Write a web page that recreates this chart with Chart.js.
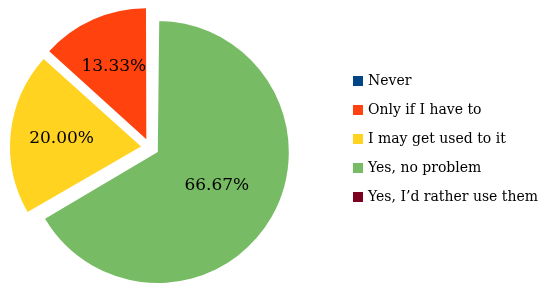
<!DOCTYPE html>
<html>
<head>
<meta charset="utf-8">
<script src="https://cdn.jsdelivr.net/npm/chart.js@4/dist/chart.umd.min.js"></script>
<style>
  html, body { margin: 0; padding: 0; background: #ffffff; }
  #wrap { position: relative; width: 550px; height: 288px; }
  #legend { position: absolute; left: 353px; top: 66px; margin: 0; padding: 0; list-style: none;
            font: 14px 'DejaVu Serif', serif; color: #000000; }
  #legend li { height: 29px; line-height: 29px; white-space: nowrap; }
  #legend .box { display: inline-block; width: 10px; height: 10px; margin-right: 5px; vertical-align: -1px; }
</style>
</head>
<body>
<div id="wrap">
  <canvas id="pieChart" width="550" height="288"></canvas>
  <ul id="legend"></ul>
</div>
<script>
// answers, in legend order
const answers = ["Never", "Only if I have to", "I may get used to it", "Yes, no problem", "Yes, I\u2019d rather use them"];
const counts = [0, 2, 3, 10, 0];
const colors = ["#004586", "#ff420e", "#ffd320", "#77bc65", "#7e0021"];

const total = counts.reduce((a, b) => a + b, 0);

// the pie runs counter-clockwise from the top, so feed it reversed
const labels = answers.slice().reverse();
const values = counts.slice().reverse();
const bg = colors.slice().reverse();

// chart.js moves an arc by offset/4 px
const explode = 36;
const pieRadius = 131;

const legendEl = document.getElementById("legend");
answers.forEach((name, i) => {
    const li = document.createElement("li");
    const box = document.createElement("span");
    box.className = "box";
    box.style.background = colors[i];
    li.appendChild(box);
    li.appendChild(document.createTextNode(name));
    legendEl.appendChild(li);
});

// chart.js also grows exploded arcs by offset/4 (less for thin ones); undo that so all slices keep one radius
const keepRadius = {
    id: "keepRadius",
    beforeDatasetsDraw(chart) {
        chart.getDatasetMeta(0).data.forEach((arc) => {
            const fix = 1 - Math.sin(Math.min(Math.PI, arc.circumference || 0));
            arc.outerRadius = pieRadius - (explode / 4) * fix;
        });
    }
};

const sliceLabels = {
    id: "sliceLabels",
    afterDatasetsDraw(chart) {
        const ctx = chart.ctx;
        const meta = chart.getDatasetMeta(0);
        ctx.save();
        ctx.font = "17px 'DejaVu Serif'";
        ctx.fillStyle = "#000000";
        ctx.textAlign = "center";
        ctx.textBaseline = "middle";
        meta.data.forEach((arc, i) => {
            const v = values[i];
            if (!v) return;
            const share = v / total;
            const mid = (arc.startAngle + arc.endAngle) / 2;
            const k = share > 0.5 ? 0.52 : 0.61;
            const r = pieRadius * k + explode / 4;
            const x = arc.x + Math.cos(mid) * r;
            const y = arc.y + Math.sin(mid) * r;
            ctx.fillText((share * 100).toFixed(2) + "%", x, y);
        });
        ctx.restore();
    }
};

new Chart("pieChart", {
    type: "pie",
    data: {
        labels: labels,
        datasets: [{
            data: values,
            backgroundColor: bg,
            borderWidth: 0,
            offset: explode,
            radius: pieRadius
        }]
    },
    options: {
        responsive: false,
        animation: false,
        layout: {
            padding: { left: 0, top: 7, right: 250, bottom: 0 }
        },
        plugins: {
            legend: { display: false },
            tooltip: { enabled: false }
        }
    },
    plugins: [keepRadius, sliceLabels]
});
</script>
</body>
</html>
